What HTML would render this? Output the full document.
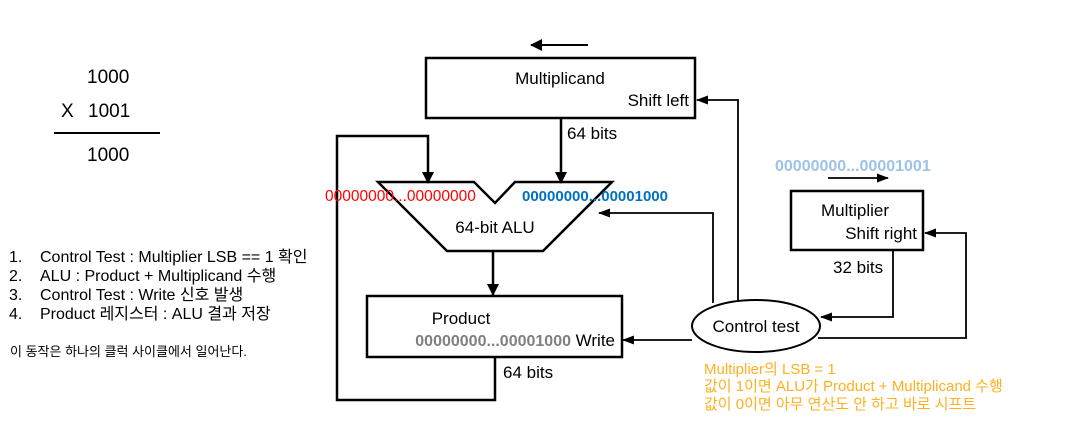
<!DOCTYPE html>
<html><head><meta charset="utf-8"><style>
html,body{margin:0;padding:0;background:#fff;}
svg{display:block;font-family:"Liberation Sans","Noto Sans CJK KR",sans-serif;}
</style></head><body>
<svg width="1065" height="427" viewBox="0 0 1065 427" xmlns="http://www.w3.org/2000/svg">
<defs>
<marker id="a" markerWidth="12" markerHeight="9" refX="11" refY="4.5" orient="auto" markerUnits="userSpaceOnUse">
<path d="M0,0 L12,4.5 L0,9 z" fill="#000"/></marker>
<marker id="b" markerWidth="12" markerHeight="12" refX="11" refY="6" orient="auto" markerUnits="userSpaceOnUse">
<path d="M0,0 L12,6 L0,12 z" fill="#000"/></marker>
</defs>
<g font-size="19" fill="#000">
<text x="87" y="83">1000</text>
<text x="61" y="117">X</text>
<text x="88" y="117">1001</text>
<text x="87" y="161">1000</text>
</g>
<line x1="54" y1="133" x2="160" y2="133" stroke="#000" stroke-width="2"/>
<g font-size="16" fill="#000">
<text x="9" y="262">1.</text><text x="40" y="262">Control Test : Multiplier LSB == 1 확인</text>
<text x="9" y="281">2.</text><text x="40" y="281">ALU : Product + Multiplicand 수행</text>
<text x="9" y="300">3.</text><text x="40" y="300">Control Test : Write 신호 발생</text>
<text x="9" y="319">4.</text><text x="40" y="319">Product 레지스터 : ALU 결과 저장</text>
</g>
<text x="10" y="356" font-size="13" fill="#000">이 동작은 하나의 클럭 사이클에서 일어난다.</text>

<g stroke="#000" fill="none">
<line x1="588" y1="45" x2="531" y2="45" stroke-width="2" marker-end="url(#b)"/>
<rect x="426" y="58" width="269" height="60" stroke-width="2.5"/>
<line x1="561" y1="118" x2="561" y2="183" stroke-width="2.5" marker-end="url(#b)"/>
<polyline points="495,357 495,400 337,400 337,136 428,136 428,183" stroke-width="2.5" marker-end="url(#b)"/>
<polygon points="378,182 474,182 495,203 515,182 612,182 543,251 447,251" stroke-width="2.5"/>
<line x1="493" y1="251" x2="493" y2="295" stroke-width="2.5" marker-end="url(#b)"/>
<rect x="367" y="296" width="255" height="61" stroke-width="2.5"/>
<ellipse cx="756" cy="326" rx="64" ry="26" stroke-width="2"/>
<line x1="692" y1="340" x2="623" y2="340" stroke-width="1.8" marker-end="url(#a)"/>
<polyline points="738,301 738,100 697,100" stroke-width="1.8" marker-end="url(#a)"/>
<polyline points="713,303 713,213 599,213" stroke-width="1.8" marker-end="url(#a)"/>
<rect x="791" y="191" width="132" height="59" stroke-width="2.5"/>
<polyline points="893,250 893,317 821,317" stroke-width="1.8" marker-end="url(#a)"/>
<polyline points="818,338 966,338 966,233 925,233" stroke-width="1.8" marker-end="url(#a)"/>
<line x1="828" y1="178" x2="888" y2="178" stroke-width="1.8" marker-end="url(#a)"/>
</g>

<g font-size="17" fill="#000">
<text x="560" y="84" text-anchor="middle">Multiplicand</text>
<text x="689" y="106" text-anchor="end">Shift left</text>
<text x="567" y="139">64 bits</text>
<text x="495" y="233" text-anchor="middle">64-bit ALU</text>
<text x="461" y="324" text-anchor="middle">Product</text>
<text x="615" y="346" text-anchor="end">Write</text>
<text x="503" y="378">64 bits</text>
<text x="756" y="332" text-anchor="middle">Control test</text>
<text x="821" y="216">Multiplier</text>
<text x="917" y="239" text-anchor="end">Shift right</text>
<text x="833" y="273">32 bits</text>
</g>
<text x="571" y="346" font-size="16" font-weight="bold" fill="#808080" text-anchor="end">00000000...00001000</text>
<text x="325" y="201" font-size="15.5" fill="#ff0000">00000000...00000000</text>
<text x="522" y="201" font-size="15" font-weight="bold" fill="#0070c0">00000000...00001000</text>
<text x="775" y="171" font-size="16" font-weight="bold" fill="#9dc3e6">00000000...00001001</text>
<g fill="#ffb020">
<text x="704" y="374" font-size="15">Multiplier의 LSB = 1</text>
<text x="704" y="391" font-size="15">값이 1이면 ALU가 Product + Multiplicand 수행</text>
<text x="704" y="409" font-size="15">값이 0이면 아무 연산도 안 하고 바로 시프트</text>
</g>
</svg>
</body></html>
